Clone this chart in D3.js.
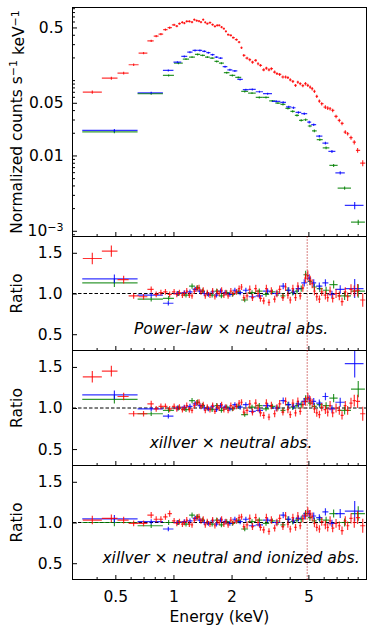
<!DOCTYPE html>
<html>
<head>
<meta charset="utf-8">
<script src="https://cdn.jsdelivr.net/npm/d3@7"></script>
<style>
  body { margin: 0; background: #fff; }
  text { font-family: "DejaVu Sans", sans-serif; }
</style>
</head>
<body>
<script>
// ---------- data ----------
// red spectrum: channel centres (keV), normalized counts, relative errors
var redE = [0.380,0.477,0.552,0.622,0.700,0.767,0.814,0.861,0.909,0.956,
            1.008,1.041,1.074,1.113,1.139,1.172,1.209,1.248,1.283,1.320,
            1.357,1.389,1.427,1.462,1.497,1.546,1.596,1.640,1.686,1.726,
            1.776,1.825,1.869,1.920,1.983,2.038,2.122,2.189,2.252,2.314,
            2.406,2.485,2.567,2.669,2.743,2.822,2.935,3.030,3.125,3.216,
            3.344,3.437,3.548,3.690,3.810,3.916,4.029,4.155,4.290,4.409,
            4.537,4.679,4.831,4.965,5.108,5.231,5.375,5.524,5.704,5.861,
            6.124,6.295,6.477,6.679,6.955,7.233,7.468,7.767,7.983,8.312,
            8.644,8.990,9.559];
var redCounts = [0.0693,0.106,0.124,0.160,0.228,0.332,0.384,0.408,0.467,0.496,
            0.541,0.521,0.561,0.584,0.572,0.602,0.602,0.589,0.634,0.615,
            0.608,0.589,0.634,0.584,0.561,0.579,0.544,0.517,0.532,0.532,
            0.506,0.482,0.443,0.401,0.392,0.366,0.344,0.320,0.269,0.213,
            0.196,0.187,0.173,0.183,0.165,0.157,0.137,0.144,0.137,0.142,
            0.128,0.122,0.119,0.110,0.110,0.108,0.101,0.0961,0.0850,0.0940,
            0.0896,0.0843,0.0896,0.0850,0.0807,0.0769,0.0708,0.0608,0.0526,0.0486,
            0.0438,0.0425,0.0417,0.0396,0.0330,0.0292,0.0266,0.0204,0.0194,0.0172,
            0.0150,0.0117,0.0079];
var redErr = [0.05,0.045,0.04,0.035,0.035,0.035,0.035,0.035,0.035,0.035,
            0.035,0.035,0.035,0.035,0.035,0.035,0.035,0.035,0.035,0.035,
            0.035,0.035,0.035,0.035,0.035,0.035,0.035,0.035,0.035,0.035,
            0.035,0.035,0.035,0.035,0.035,0.035,0.035,0.035,0.035,0.04,
            0.045,0.045,0.045,0.045,0.045,0.045,0.045,0.045,0.045,0.045,
            0.045,0.045,0.045,0.045,0.045,0.045,0.045,0.045,0.045,0.045,
            0.045,0.045,0.05,0.05,0.05,0.05,0.05,0.05,0.05,0.05,
            0.055,0.055,0.055,0.055,0.055,0.055,0.055,0.055,0.055,0.06,
            0.065,0.075,0.09];

// blue spectrum: channel edges (keV), counts, relative errors
var blueEdges = [0.337,0.652,0.882,1.00,1.098,1.179,1.256,1.332,1.409,1.480,1.555,1.633,
            1.710,1.799,1.902,2.019,2.142,2.287,2.456,2.669,2.911,3.239,3.578,3.828,
            4.082,4.290,4.591,4.930,5.170,5.486,5.910,6.346,6.899,7.720,9.650];
var blueCounts = [0.0215,0.068,0.1345,0.173,0.206,0.235,0.248,0.248,0.241,0.231,
            0.2175,0.202,0.196,0.151,0.137,0.1325,0.102,0.0746,0.0752,0.0701,
            0.066,0.0521,0.0506,0.0441,0.043,0.0372,0.0358,0.0277,0.0256,0.018,
            0.0146,0.0113,0.00586,0.00217];
var blueErr = [0.045,0.03,0.03,0.03,0.03,0.03,0.03,0.03,0.03,0.03,
            0.03,0.03,0.03,0.03,0.03,0.03,0.03,0.03,0.03,0.03,
            0.03,0.035,0.035,0.035,0.035,0.035,0.04,0.04,0.04,0.04,
            0.04,0.045,0.05,0.11];

// green spectrum
var greenEdges = [0.337,0.652,0.882,1.006,1.118,1.205,1.292,1.376,1.457,1.542,1.631,1.720,
            1.825,1.951,2.090,2.244,2.436,2.669,2.901,3.132,3.372,3.583,3.802,4.034,
            4.255,4.472,4.711,4.965,5.218,5.524,5.932,6.421,7.088,8.312,9.813];
var greenCounts = [0.0206,0.066,0.1155,0.168,0.190,0.202,0.2195,0.213,0.202,0.196,
            0.177,0.168,0.1254,0.1155,0.1086,0.0708,0.0672,0.0589,0.0589,0.0529,
            0.0495,0.0476,0.0421,0.0384,0.034,0.0292,0.0298,0.0246,0.0212,0.0162,
            0.0126,0.00737,0.00368,0.0013];
var greenErr = [0.045,0.03,0.03,0.03,0.03,0.03,0.03,0.03,0.03,0.03,
            0.03,0.03,0.03,0.03,0.03,0.03,0.03,0.03,0.03,0.03,
            0.03,0.035,0.035,0.035,0.035,0.035,0.04,0.04,0.04,0.04,
            0.04,0.045,0.05,0.08];

// data/model ratios for the three fits
var redRatio1 = [1.43,1.52,1.17,0.97,0.96,1.05,0.99,1.01,1.02,0.99,
            1.02,0.99,1.01,0.98,1.00,1.03,0.98,0.97,1.03,1.06,
            1.07,1.02,1.04,0.97,1.01,0.98,1.03,0.96,1.02,1.00,
            1.04,0.98,1.01,0.97,1.03,1.00,1.02,1.06,1.08,0.95,
            0.97,1.05,0.95,1.06,1.00,0.94,0.91,1.06,0.89,1.03,
            0.93,1.00,1.05,0.95,1.08,0.98,0.92,1.06,0.95,1.09,
            0.97,1.07,1.19,1.22,1.16,1.12,1.03,0.96,0.93,1.02,
            0.98,0.95,1.03,0.94,1.00,0.97,0.90,1.02,0.96,1.05,
            1.03,1.04,0.92];
var redRatio2 = [1.38,1.45,1.14,0.93,0.93,1.05,0.99,1.02,1.02,0.99,
            1.02,0.99,1.01,0.98,1.00,1.03,0.98,0.97,1.03,1.06,
            1.07,1.02,1.04,0.97,1.01,0.98,1.03,0.96,1.02,1.00,
            1.04,0.98,1.01,0.97,1.03,1.00,1.02,1.06,1.07,0.95,
            0.97,1.05,0.95,1.06,1.00,0.94,0.91,1.06,0.89,1.03,
            0.93,1.00,1.05,0.95,1.08,0.98,0.92,1.06,0.94,1.08,
            0.96,1.04,1.08,1.13,1.09,1.06,0.99,0.94,0.92,1.01,
            0.98,0.95,1.03,0.94,1.00,0.97,0.91,1.03,0.97,1.06,
            1.09,1.08,0.93];
var redRatio3 = [1.03,1.05,1.03,0.99,0.99,1.09,1.04,1.04,1.07,1.11,
            1.02,0.99,1.01,0.98,1.00,1.03,0.98,0.97,1.03,1.06,
            1.07,1.02,1.04,0.97,1.01,0.98,1.03,0.96,1.02,1.00,
            1.04,0.98,1.01,0.97,1.03,1.00,1.02,1.06,1.07,0.95,
            0.97,1.05,0.95,1.06,1.00,0.94,0.91,1.06,0.89,1.03,
            0.93,1.00,1.05,0.95,1.08,0.98,0.92,1.06,0.94,1.08,
            0.96,1.05,1.09,1.13,1.10,1.07,0.99,0.94,0.92,1.01,
            0.97,0.94,1.02,0.93,0.99,0.96,0.90,1.02,0.96,1.05,
            1.00,1.06,0.96];
var blueRatio1 = [1.18,0.98,0.88,1.00,1.01,1.02,1.05,1.03,1.00,0.99,
            1.02,0.98,1.03,1.01,0.99,1.04,1.01,1.04,0.96,0.97,
            1.03,1.00,1.09,1.04,1.02,1.06,1.13,1.19,1.13,1.09,
            1.13,0.99,1.05,1.06];
var blueRatio2 = [1.16,0.99,0.90,1.00,1.01,1.02,1.05,1.03,1.00,0.99,
            1.02,0.98,1.03,1.01,0.99,1.04,1.01,1.04,0.96,0.97,
            1.03,1.00,1.09,1.04,1.02,1.05,1.08,1.11,1.08,1.06,
            1.14,0.99,1.07,1.54];
var blueRatio3 = [1.045,1.01,0.92,1.00,1.01,1.02,1.05,1.03,1.00,0.99,
            1.02,0.98,1.03,1.01,0.99,1.04,1.01,1.04,0.96,0.97,
            1.03,1.00,1.09,1.04,1.02,1.05,1.08,1.11,1.08,1.06,
            1.13,0.99,1.11,1.14];
var greenRatio1 = [1.13,0.93,0.94,1.00,0.98,1.09,1.07,1.03,1.00,0.98,
            1.03,0.97,1.01,0.99,1.02,0.92,1.01,1.03,0.99,1.02,
            1.00,0.97,1.04,1.01,1.03,1.06,1.23,1.15,1.08,1.06,
            1.04,1.11,0.97,1.03];
var greenRatio2 = [1.105,0.93,0.97,1.00,0.98,1.09,1.07,1.03,1.00,0.98,
            1.03,0.97,1.01,0.99,1.02,0.92,1.01,1.03,0.99,1.02,
            1.00,0.97,1.04,1.01,1.03,1.04,1.11,1.06,1.02,1.04,
            1.03,1.12,0.97,1.23];
var greenRatio3 = [1.00,0.96,1.00,1.00,0.98,1.09,1.07,1.03,1.00,0.98,
            1.03,0.97,1.01,0.99,1.02,0.92,1.01,1.03,0.99,1.02,
            1.00,0.97,1.04,1.01,1.03,1.04,1.11,1.06,1.02,1.04,
            1.03,1.11,1.00,1.11];

var panelNames = ["Power-law \u00d7 neutral abs.", "xillver \u00d7 neutral abs.", "xillver \u00d7 neutral and ionized abs."];
var xTickVals = [0.5, 1, 2, 5];
var topTickVals = [0.001, 0.01, 0.05, 0.5];
var ratioTickVals = [0.5, 1.0, 1.5];
var lineEnergy = 4.93;   // dotted marker in ratio panels

// ---------- layout ----------
var colors = {red: "#ff0000", blue: "#0000ff", green: "#008000"};
var svg = d3.select("body").append("svg").attr("width", 374).attr("height", 635);

var x = d3.scaleLog().domain([0.3, 10]).range([72.5, 366.5]);
var yTop = d3.scaleLog().domain([8.4e-4, 0.92]).range([236.5, 7.5]);
var ratioTops = [236.5, 350.5, 465.5], ratioBottoms = [350.5, 465.5, 579.5];
var ratioScales = ratioTops.map(function(t, i) {
	return d3.scaleLinear().domain([0.3, 1.7]).range([ratioBottoms[i], t]);
});

// minor tick positions for the log axes
var xMinor = [0.4, 0.6, 0.7, 0.8, 0.9, 3, 4, 6, 7, 8, 9];
var yMinor = [];
[-4, -3, -2, -1].forEach(function(p) {
	for (var k = 1; k <= 9; k++) {
		var v = k * Math.pow(10, p);
		if (v > 8.4e-4 && v < 0.92 && topTickVals.indexOf(+v.toPrecision(3)) < 0) yMinor.push(v);
	}
});

// ---------- bins ----------
function redBins(vals) {
	return redE.map(function(e, i) {
		var lo = i > 0 ? Math.sqrt(redE[i - 1] * e) : e * e / Math.sqrt(e * redE[1]);
		var hi = i < redE.length - 1 ? Math.sqrt(redE[i + 1] * e) : e * e / Math.sqrt(e * redE[i - 1]);
		return {lo: lo, hi: hi, e: e, v: vals[i], err: redErr[i]};
	});
}
function edgeBins(edges, vals, errs) {
	return vals.map(function(v, i) {
		return {lo: edges[i], hi: edges[i + 1], e: (edges[i] + edges[i + 1]) / 2, v: v, err: errs[i]};
	});
}

// ---------- drawing helpers ----------
function clipFor(id, y0, y1) {
	svg.append("clipPath").attr("id", id).append("rect")
		.attr("x", 72.5).attr("y", y0).attr("width", 294).attr("height", y1 - y0);
	return svg.append("g").attr("clip-path", "url(#" + id + ")");
}

function drawBars(g, bins, yScale, color) {
	var grp = g.append("g").attr("stroke", color).attr("stroke-width", 1.2).attr("stroke-opacity", 0.8);
	grp.selectAll("line.h").data(bins).enter().append("line").attr("class", "h")
		.attr("x1", function(d) { return x(d.lo); })
		.attr("x2", function(d) { return x(d.hi); })
		.attr("y1", function(d) { return yScale(d.v); })
		.attr("y2", function(d) { return yScale(d.v); });
	grp.selectAll("line.v").data(bins).enter().append("line").attr("class", "v")
		.attr("x1", function(d) { return x(d.e); })
		.attr("x2", function(d) { return x(d.e); })
		.attr("y1", function(d) { return yScale(d.v * (1 - d.err)); })
		.attr("y2", function(d) { return yScale(d.v * (1 + d.err)); });
}

function styleAxis(ax) {
	ax.select(".domain").remove();
	ax.attr("font-size", 15.5).attr("font-family", "DejaVu Sans");
	ax.selectAll(".tick text").attr("fill", "#000");
	ax.selectAll(".tick line").attr("stroke", "#000");
	return ax;
}

function bottomAxis(yPos, labels) {
	styleAxis(svg.append("g").attr("transform", "translate(0," + yPos + ")")
		.call(d3.axisBottom(x).tickValues(xMinor).tickSize(-2.5).tickFormat("")));
	styleAxis(svg.append("g").attr("transform", "translate(0," + yPos + ")")
		.call(d3.axisBottom(x).tickValues(xTickVals).tickSize(-4.5).tickPadding(11.5)
			.tickFormat(labels ? function(d) { return d; } : "")));
}

function frame(y0, y1) {
	svg.append("rect").attr("x", 72.5).attr("y", y0).attr("width", 294).attr("height", y1 - y0)
		.attr("fill", "none").attr("stroke", "#000").attr("stroke-width", 1);
}

// ---------- top panel: spectra ----------
var gTop = clipFor("clipTop", 7.5, 236.5);
drawBars(gTop, edgeBins(greenEdges, greenCounts, greenErr), yTop, colors.green);
drawBars(gTop, edgeBins(blueEdges, blueCounts, blueErr), yTop, colors.blue);
drawBars(gTop, redBins(redCounts), yTop, colors.red);

styleAxis(svg.append("g").attr("transform", "translate(72.5,0)")
	.call(d3.axisLeft(yTop).tickValues(yMinor).tickSize(-2.5).tickFormat("")));
var topLeft = styleAxis(svg.append("g").attr("transform", "translate(72.5,0)")
	.call(d3.axisLeft(yTop).tickValues(topTickVals).tickSize(-4.5).tickPadding(9)
		.tickFormat(function(d) { return d === 0.001 ? "10" : d; })));
topLeft.selectAll(".tick text").filter(function(d) { return d === 0.001; })
	.append("tspan").attr("dy", "-0.45em").attr("font-size", "11px").text("\u22123");
bottomAxis(236.5, false);
frame(7.5, 236.5);

var yTitle = svg.append("text").attr("transform", "translate(21.5,122) rotate(-90)")
	.attr("text-anchor", "middle").attr("font-size", "15.5px").attr("fill", "#000");
yTitle.append("tspan").text("Normalized counts s");
yTitle.append("tspan").attr("dy", "-0.45em").attr("font-size", "11px").text("\u22121");
yTitle.append("tspan").attr("dy", "0.45em").text(" keV");
yTitle.append("tspan").attr("dy", "-0.45em").attr("font-size", "11px").text("\u22121");

// ---------- ratio panels ----------
var ratios = [
	[redRatio1, blueRatio1, greenRatio1],
	[redRatio2, blueRatio2, greenRatio2],
	[redRatio3, blueRatio3, greenRatio3]
];

ratios.forEach(function(r, i) {
	var ys = ratioScales[i];
	var g = clipFor("clipR" + i, ratioTops[i], ratioBottoms[i]);

	// reference line at unity
	g.append("line").attr("x1", 72.5).attr("x2", 366.5).attr("y1", ys(1)).attr("y2", ys(1))
		.attr("stroke", "#000").attr("stroke-width", 1).attr("stroke-dasharray", "3.5,2");

	drawBars(g, edgeBins(greenEdges, r[2], greenErr), ys, colors.green);
	drawBars(g, edgeBins(blueEdges, r[1], blueErr), ys, colors.blue);
	drawBars(g, redBins(r[0]), ys, colors.red);

	styleAxis(svg.append("g").attr("transform", "translate(72.5,0)")
		.call(d3.axisLeft(ys).tickValues(ratioTickVals).tickSize(-4.5).tickPadding(10)
			.tickFormat(d3.format(".1f"))));
	bottomAxis(ratioBottoms[i], i === 2);
	frame(ratioTops[i], ratioBottoms[i]);

	svg.append("text").attr("x", 231).attr("y", ratioTops[i] + 97)
		.attr("text-anchor", "middle").attr("font-size", "15.5px").attr("font-style", "italic")
		.attr("fill", "#000").text(panelNames[i]);

	svg.append("text").attr("transform", "translate(21.5," + ys(1) + ") rotate(-90)")
		.attr("text-anchor", "middle").attr("font-size", "15.5px").attr("fill", "#000").text("Ratio");
});

// dotted line marker through the ratio panels
svg.append("line").attr("x1", x(lineEnergy)).attr("x2", x(lineEnergy))
	.attr("y1", ratioTops[0]).attr("y2", ratioBottoms[2])
	.attr("stroke", "#b00000").attr("stroke-width", 1).attr("stroke-dasharray", "1,2");

svg.append("text").attr("x", 219.5).attr("y", 622).attr("text-anchor", "middle")
	.attr("font-size", "15.5px").attr("fill", "#000").text("Energy (keV)");
</script>
</body>
</html>
